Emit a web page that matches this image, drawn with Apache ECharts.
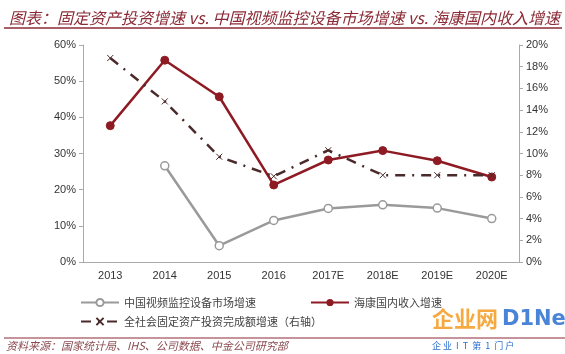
<!DOCTYPE html>
<html>
<head>
<meta charset="utf-8">
<script src="https://cdn.jsdelivr.net/npm/echarts@6/dist/echarts.min.js"></script>
<style>
html,body{margin:0;padding:0;background:#fff;}
#main{width:565px;height:354px;}
</style>
</head>
<body>
<div id="main"></div>
<script>
// 年份
var years = ['2013','2014','2015','2016','2017E','2018E','2019E','2020E'];
// 中国视频监控设备市场增速 (左轴)
var marketGrowth = ['-', 26.6, 4.5, 11.5, 14.8, 15.8, 14.9, 12.0];
// 海康国内收入增速 (左轴)
var hikGrowth = [37.7, 55.8, 45.7, 21.3, 28.2, 30.8, 28.0, 23.5];
// 全社会固定资产投资完成额增速 (右轴)
var fixedInvest = [18.8, 14.8, 9.7, 7.9, 10.3, 8.0, 8.0, 8.0];

var nameMarket = '中国视频监控设备市场增速';
var nameHik = '海康国内收入增速';
var nameInvest = '全社会固定资产投资完成额增速（右轴）';

var dom = document.getElementById("main");
var myChart = echarts.init(dom);
var option = null;

var red = '#8e1b24';
var grey = '#9a9a9a';
var dark = '#4a2a2a';
var cjk = '"Noto Sans CJK SC", sans-serif';

option = {
    backgroundColor: '#fff',
    animation: false,
    title: {
        text: '图表：固定资产投资增速 vs. 中国视频监控设备市场增速 vs. 海康国内收入增速',
        left: 4,
        top: 5,
        textStyle: {
            color: '#8b2a36',
            fontSize: 16,
            fontStyle: 'italic',
            fontWeight: 'normal',
            fontFamily: cjk
        }
    },
    legend: [
        {
            left: 75, top: 292,
            itemWidth: 38, itemHeight: 9,
            data: [nameMarket],
            textStyle: {fontSize: 11, color: '#444', fontFamily: cjk}
        },
        {
            left: 305, top: 292,
            itemWidth: 38, itemHeight: 9,
            data: [nameHik],
            textStyle: {fontSize: 11, color: '#444', fontFamily: cjk}
        },
        {
            left: 75, top: 311,
            itemWidth: 38, itemHeight: 9,
            data: [nameInvest],
            textStyle: {fontSize: 11, color: '#444', fontFamily: cjk}
        }
    ],
    grid: {
        left: 83,
        right: 46,
        top: 45,
        bottom: 92
    },
    xAxis: {
        type: 'category',
        data: years,
        boundaryGap: true,
        axisLine: {lineStyle: {color: '#aaa'}},
        axisTick: {inside: true, length: 4, lineStyle: {color: '#aaa'}},
        axisLabel: {color: '#333', fontSize: 11, margin: 8, fontFamily: 'Liberation Sans'}
    },
    yAxis: [
        {
            type: 'value',
            min: 0, max: 60, interval: 10,
            axisLine: {show: true, lineStyle: {color: '#aaa'}},
            axisTick: {show: true, length: 4, lineStyle: {color: '#aaa'}},
            splitLine: {show: false},
            axisLabel: {formatter: '{value}%', color: '#333', fontSize: 11, margin: 7, fontFamily: 'Liberation Sans'}
        },
        {
            type: 'value',
            min: 0, max: 20, interval: 2,
            axisLine: {show: true, lineStyle: {color: '#aaa'}},
            axisTick: {show: true, length: 4, lineStyle: {color: '#aaa'}},
            splitLine: {show: false},
            axisLabel: {formatter: '{value}%', color: '#333', fontSize: 11, margin: 7, fontFamily: 'Liberation Sans'}
        }
    ],
    series: [
        {
            name: nameMarket,
            type: 'line',
            data: marketGrowth,
            symbol: 'circle',
            symbolSize: 8,
            itemStyle: {color: '#fff', borderColor: grey, borderWidth: 1.5},
            lineStyle: {color: grey, width: 2.5}
        },
        {
            name: nameHik,
            type: 'line',
            data: hikGrowth,
            symbol: 'circle',
            symbolSize: 8,
            itemStyle: {color: red, borderColor: red},
            lineStyle: {color: red, width: 2.5}
        },
        {
            name: nameInvest,
            type: 'line',
            yAxisIndex: 1,
            data: fixedInvest,
            symbol: 'path://M0,0 L10,10 M10,0 L0,10',
            symbolSize: 6,
            itemStyle: {color: dark, borderColor: dark, borderWidth: 1},
            lineStyle: {color: dark, width: 2.5, type: [10, 7, 2, 7]}
        }
    ],
    graphic: [
        {
            type: 'line',
            shape: {x1: 4, y1: 28, x2: 562, y2: 28},
            style: {stroke: '#8b2a36', lineWidth: 1.5}
        },
        {
            type: 'line',
            shape: {x1: 4, y1: 338, x2: 565, y2: 338},
            style: {stroke: '#8b2a36', lineWidth: 1.2}
        },
        {
            type: 'text',
            left: 6, top: 340,
            style: {
                text: '资料来源：国家统计局、IHS、公司数据、中金公司研究部',
                fill: '#8b4a50',
                fontSize: 11,
                fontStyle: 'italic',
                fontFamily: cjk
            }
        },
        {
            type: 'text',
            left: 432, top: 308,
            style: {
                text: '企业网',
                fill: '#f39a1e',
                fontSize: 22,
                fontWeight: 'bold',
                fontFamily: cjk,
                opacity: 0.85
            }
        },
        {
            type: 'text',
            left: 502, top: 309,
            style: {
                text: 'D1Net',
                fill: '#2a6fd0',
                fontSize: 21,
                fontWeight: 'bold',
                fontFamily: 'DejaVu Sans',
                opacity: 0.85
            }
        },
        {
            type: 'text',
            left: 432, top: 341,
            style: {
                text: '企 业  I  T  第  1  门 户',
                fill: '#2a6fd0',
                fontSize: 9,
                fontFamily: cjk
            }
        }
    ]
};

if (option && typeof option === "object") {
    myChart.setOption(option, true);
}
</script>
</body>
</html>
